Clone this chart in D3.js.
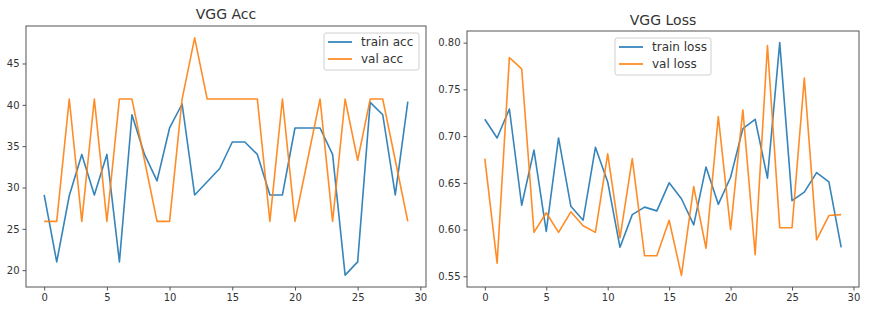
<!DOCTYPE html>
<html lang="en">
<head>
	<meta charset="UTF-8"/>
	<title>VGG Acc / Loss</title>
	<script src="https://d3js.org/d3.v7.min.js"></script>
	<style>
		body { margin: 0; background: #fff; }
		text { font-family: "DejaVu Sans", sans-serif; fill: #333; }
	</style>
</head>
<body>
<script>
	var w = 870;	// Width of the SVG
	var h = 310;	// Height of the SVG

	// epochs on the x axis
	var epochs = [0,1,2,3,4,5,6,7,8,9,10,11,12,13,14,15,16,17,18,19,20,21,22,23,24,25,26,27,28,29];

	// accuracy values (percent)
	var trainAcc = [29.1,21.0,29.0,34.0,29.1,34.0,21.0,38.8,34.0,30.8,37.2,40.1,29.1,30.7,32.3,35.5,35.5,34.0,29.1,29.1,37.2,37.2,37.2,34.0,19.4,21.0,40.3,38.8,29.1,40.4];
	var valAcc   = [25.9,25.9,40.7,25.9,40.7,25.9,40.7,40.7,33.3,25.9,25.9,40.7,48.1,40.7,40.7,40.7,40.7,40.7,25.9,40.7,25.9,33.3,40.7,25.9,40.7,33.3,40.7,40.7,33.3,25.9];

	// loss values
	var trainLoss = [0.718,0.698,0.729,0.626,0.685,0.598,0.698,0.625,0.610,0.688,0.651,0.581,0.616,0.624,0.620,0.650,0.633,0.605,0.667,0.627,0.656,0.708,0.718,0.655,0.800,0.631,0.640,0.661,0.651,0.581];
	var valLoss   = [0.676,0.564,0.784,0.772,0.597,0.618,0.597,0.619,0.604,0.597,0.681,0.591,0.676,0.572,0.572,0.610,0.551,0.646,0.580,0.721,0.600,0.728,0.573,0.797,0.602,0.602,0.762,0.589,0.615,0.616];

	// tick labels
	var xTicks = [0,5,10,15,20,25,30];
	var accTicks = [20,25,30,35,40,45];
	var lossTicks = [0.55,0.60,0.65,0.70,0.75,0.80];

	var blue = "#1f77b4", orange = "#ff7f0e";

	var svg = d3.select("body")
				.append("svg")
				.attr("width", w)
				.attr("height", h);

	svg.append("rect").attr("width", w).attr("height", h).attr("fill", "#fff");

	// draws one panel, box = [left, top, right, bottom]
	function panel(box, title, titleY, series, names, yTicks, yFmt, legendX, legendY, legendW) {
		var g = svg.append("g");

		// matplotlib style 5% margins
		var xScale = d3.scaleLinear()
					.domain([-1.45, 30.45])
					.range([box[0], box[2]]);

		var all = series[0].concat(series[1]);
		var lo = d3.min(all), hi = d3.max(all), pad = (hi - lo) * 0.05;
		var yScale = d3.scaleLinear()
					.domain([lo - pad, hi + pad])
					.range([box[3], box[1]]);

		var line = d3.line()
					.x(function(d, i) { return xScale(epochs[i]); })
					.y(function(d) { return yScale(d); });

		var cols = [blue, orange];
		series.forEach(function(s, k) {
			g.append("path")
				.datum(s)
				.attr("d", line)
				.attr("fill", "none")
				.attr("stroke", cols[k])
				.attr("stroke-width", 1.6)
				.attr("stroke-linejoin", "round")
				.attr("opacity", 0.9);
		});

		// axes
		var xAxis = d3.axisBottom(xScale).tickValues(xTicks).tickSize(3.5).tickPadding(3);
		var yAxis = d3.axisLeft(yScale).tickValues(yTicks).tickSize(3.5).tickPadding(3).tickFormat(yFmt);

		var gx = g.append("g")
			.attr("transform", "translate(0," + box[3] + ")")
			.call(xAxis);
		var gy = g.append("g")
			.attr("transform", "translate(" + box[0] + ",0)")
			.call(yAxis);

		[gx, gy].forEach(function(a) {
			a.select(".domain").remove();
			a.selectAll("line").attr("stroke", "#555");
			a.selectAll("text").attr("font-size", 10).attr("fill", "#333")
				.attr("font-family", "DejaVu Sans, sans-serif");
		});

		// frame
		g.append("rect")
			.attr("x", box[0]).attr("y", box[1])
			.attr("width", box[2] - box[0]).attr("height", box[3] - box[1])
			.attr("fill", "none")
			.attr("stroke", "#555")
			.attr("stroke-width", 1);

		// title
		g.append("text")
			.attr("x", (box[0] + box[2]) / 2)
			.attr("y", titleY)
			.attr("text-anchor", "middle")
			.attr("font-size", 14)
			.text(title);

		// legend
		g.append("rect")
			.attr("x", legendX).attr("y", legendY)
			.attr("width", legendW).attr("height", 37)
			.attr("rx", 2)
			.attr("fill", "#fff")
			.attr("fill-opacity", 0.8)
			.attr("stroke", "#d0d0d0");
		names.forEach(function(n, k) {
			var yy = legendY + 9 + k * 17;
			g.append("line")
				.attr("x1", legendX + 4).attr("x2", legendX + 28)
				.attr("y1", yy).attr("y2", yy)
				.attr("stroke", cols[k]).attr("stroke-width", 1.6);
			g.append("text")
				.attr("x", legendX + 37)
				.attr("y", yy + 4)
				.attr("font-size", 12)
				.text(n);
		});
	}

	panel([26, 26, 426, 287], "VGG Acc", 19, [trainAcc, valAcc], ["train acc", "val acc"],
		accTicks, d3.format("d"), 324, 33, 95);

	panel([467, 31, 859, 287], "VGG Loss", 25, [trainLoss, valLoss], ["train loss", "val loss"],
		lossTicks, d3.format(".2f"), 615, 38, 96);
</script>
</body>
</html>
